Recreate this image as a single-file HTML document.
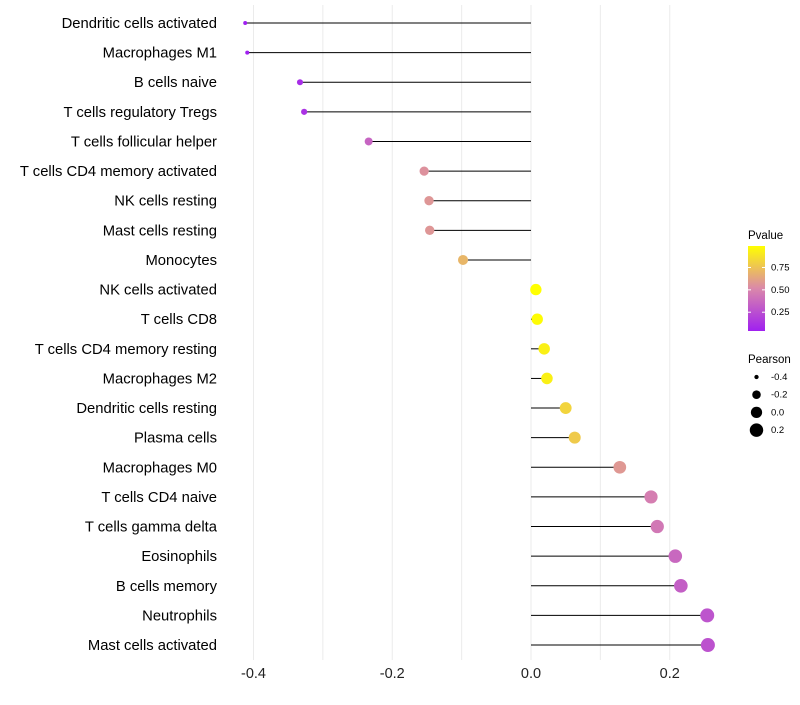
<!DOCTYPE html>
<html><head><meta charset="utf-8"><style>
body{margin:0;background:#fff;font-family:"Liberation Sans",sans-serif}
svg text{font-family:"Liberation Sans",sans-serif}
</style></head><body>
<svg id="c" width="800" height="700"></svg>
<script>
const categories=["Dendritic cells activated","Macrophages M1","B cells naive","T cells regulatory  Tregs ","T cells follicular helper","T cells CD4 memory activated","NK cells resting","Mast cells resting","Monocytes","NK cells activated","T cells CD8","T cells CD4 memory resting","Macrophages M2","Dendritic cells resting","Plasma cells","Macrophages M0","T cells CD4 naive","T cells gamma delta","Eosinophils","B cells memory","Neutrophils","Mast cells activated"];
const pearson=[-0.412,-0.409,-0.333,-0.327,-0.234,-0.154,-0.147,-0.146,-0.098,0.007,0.009,0.019,0.023,0.050,0.063,0.128,0.173,0.182,0.208,0.216,0.254,0.255];
const pvalue=[0.03,0.03,0.1,0.12,0.35,0.55,0.57,0.57,0.7,0.99,0.98,0.93,0.93,0.82,0.78,0.58,0.47,0.44,0.37,0.33,0.28,0.27];
const xTicks=[-0.4,-0.2,0.0,0.2];
const xGrid=[-0.4,-0.3,-0.2,-0.1,0,0.1,0.2];
const pTicks=[0.25,0.5,0.75];
const sizeTicks=[-0.4,-0.2,0.0,0.2];

const NS="http://www.w3.org/2000/svg";
const svg=document.getElementById('c');
function mk(t,a,p){const e=document.createElementNS(NS,t);for(const k in a)e.setAttribute(k,a[k]);(p||svg).appendChild(e);return e;}
const x=v=>531+v*693.75;
const y=i=>23+i*29.62;
const r=v=>Math.sqrt(Math.max(2,4+(v+0.41)*67.7));
function lerp(a,b,t){return a.map((c,i)=>Math.round(c+(b[i]-c)*t));}
function col(p){const lo=[160,32,240],mid=[218,136,170],hi=[255,255,0];
 const t=Math.min(1,Math.max(0,(p-0.04)/0.95));
 const c=t<0.5?lerp(lo,mid,t*2):lerp(mid,hi,(t-0.5)*2);return `rgb(${c.join(',')})`;}

const grid=mk('g',{});


xGrid.forEach(v=>{const l=mk('line',{x1:x(v),x2:x(v),y1:5,y2:660,stroke:'#ebebeb','stroke-width':1},grid);
 });

categories.forEach((c,i)=>{
 const t=mk('text',{x:217,y:y(i)+5,'text-anchor':'end','font-size':14.8,fill:'#000'});t.textContent=c;
 
 
 const l=mk('line',{x1:x(0),x2:x(pearson[i]),y1:y(i),y2:y(i),stroke:'#000','stroke-width':1});
 
 
 const d=mk('circle',{cx:x(pearson[i]),cy:y(i),r:r(pearson[i]),fill:col(pvalue[i])});
 
 
});
xTicks.forEach(v=>{const t=mk('text',{x:x(v),y:678,'text-anchor':'middle','font-size':14.5,fill:'#222'});
 t.textContent=v.toFixed(1);
 
 });

// Pvalue legend
const lg=mk('g',{});


const tt=mk('text',{x:748,y:239,'font-size':11.5,fill:'#000'},lg);tt.textContent='Pvalue';
const defs=mk('defs',{});const gr=mk('linearGradient',{id:'pg',x1:0,y1:1,x2:0,y2:0},defs);
[0,0.25,0.5,0.75,1].forEach(s=>mk('stop',{offset:s,'stop-color':col(0.04+s*0.95)},gr));
const bar=mk('rect',{x:748,y:246,width:17,height:85,fill:'url(#pg)'},lg);


const py=p=>331-(p-0.04)/0.95*85;
pTicks.forEach(p=>{mk('line',{x1:748,x2:751,y1:py(p),y2:py(p),stroke:'#fff'},lg);mk('line',{x1:762,x2:765,y1:py(p),y2:py(p),stroke:'#fff'},lg);
 const t=mk('text',{x:771,y:py(p)+3,'font-size':9.5,fill:'#000'},lg);t.textContent=p.toFixed(2);
 });

// Pearson legend
const sg=mk('g',{});


const st=mk('text',{x:748,y:363,'font-size':11.5,fill:'#000'},sg);st.textContent='Pearson';
sizeTicks.forEach((v,i)=>{const cy=377+i*17.7;
 const c=mk('circle',{cx:756.5,cy:cy,r:r(v),fill:'#000'},sg);
 
 const t=mk('text',{x:771,y:cy+3,'font-size':9.5,fill:'#000'},sg);t.textContent=v.toFixed(1);
 });
</script>
</body></html>
